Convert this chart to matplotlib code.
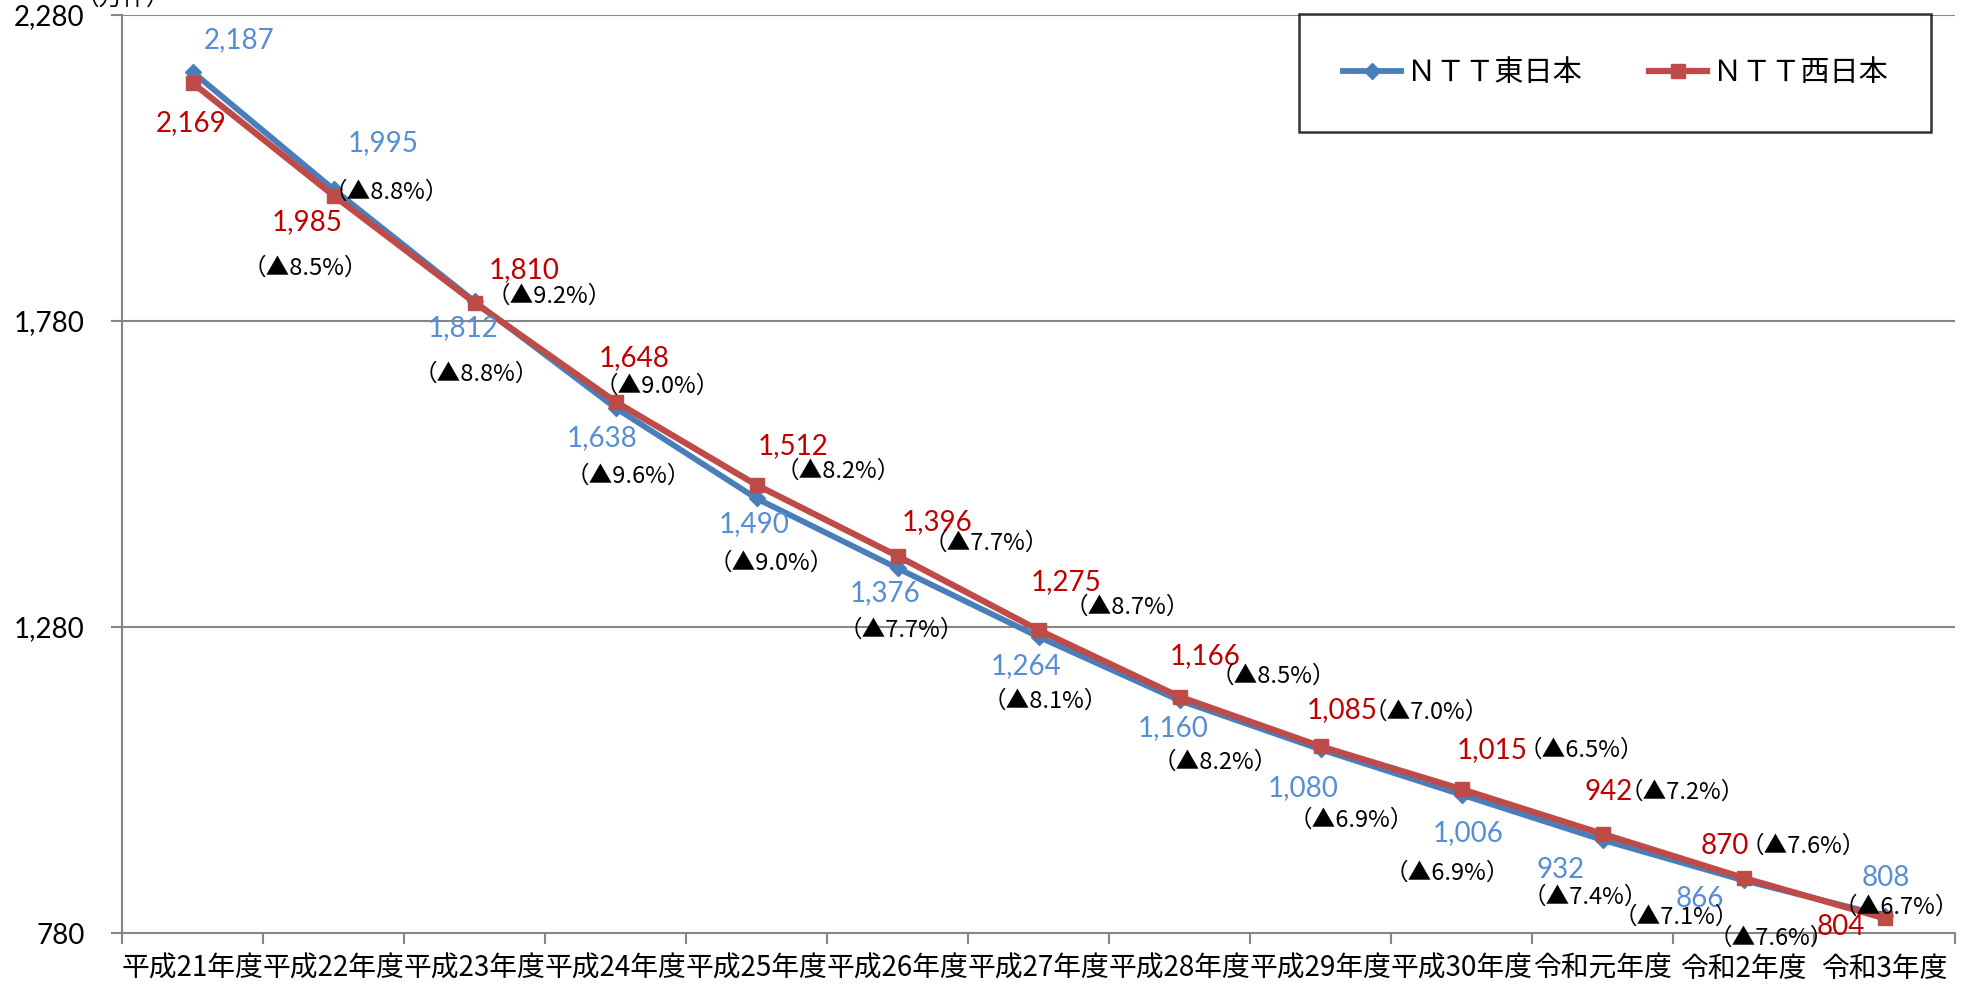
import matplotlib
matplotlib.use('Agg')
import matplotlib.pyplot as plt

plt.rcParams['font.family'] = ['Lato', 'Noto Sans CJK JP', 'DejaVu Sans']

# data
years = ['平成21年度', '平成22年度', '平成23年度', '平成24年度', '平成25年度', '平成26年度',
         '平成27年度', '平成28年度', '平成29年度', '平成30年度', '令和元年度', '令和2年度', '令和3年度']
east = [2187, 1995, 1812, 1638, 1490, 1376, 1264, 1160, 1080, 1006, 932, 866, 808]
west = [2169, 1985, 1810, 1648, 1512, 1396, 1275, 1166, 1085, 1015, 942, 870, 804]
east_pct = ['8.8', '9.2', '9.6', '9.0', '7.7', '8.1', '8.2', '6.9', '6.9', '7.4', '7.1', '6.7']
west_pct = ['8.5', '8.8', '9.0', '8.2', '7.7', '8.7', '8.5', '7.0', '6.5', '7.2', '7.6', '7.6']
yticks = [780, 1280, 1780, 2280]

# label offsets (pixels in the shrunk reference, y down), scaled below
east_off = [(37, -25), (39, -37), (-9, 21), (-11, 24), (-2, 20), (-10, 20), (-10, 23),
            (-5, 22), (-14, 31), (5, 30), (-33, 24), (-35, 15), (1, -30)]
west_off = [(-1, 32), (-21, 21), (39, -26), (15, -35), (29, -31), (31, -27), (22, -38),
            (20, -32), (17, -29), (24, -31), (5, -33), (-15, -25), (-35, 7)]
east_pct_off = [(42, 2), (59, -4), (10, 54), (12, 51), (3, 49), (5, 51), (28, 49),
                (24, 56), (-11, 62), (-14, 45), (-53, 29), (9, -7)]
west_pct_off = [(-22, 58), (1, 57), (33, -12), (65, -11), (70, -10), (70, -18), (74, -16),
                (84, -27), (95, -31), (63, -33), (47, -25), (-90, 16)]
S = 1978 / 1568

c_east, c_west = '#4A7EBB', '#BE4B48'
t_east, t_west = '#558ED5', '#C00000'
grid_c = '#868686'

fig = plt.figure(figsize=(19.78, 9.84), dpi=100)
ax = fig.add_axes([0.0617, 0.0518, 0.9267, 0.933])

x = list(range(len(years)))
ax.plot(x, east, color=c_east, lw=4.2, marker='D', ms=8, label='ＮＴＴ東日本', zorder=3)
ax.plot(x, west, color=c_west, lw=4.5, marker='s', ms=10, label='ＮＴＴ西日本', zorder=4)

ax.set_xlim(-0.5, len(years) - 0.5)
ax.set_ylim(780, 2280)
ax.set_yticks(yticks)
ax.set_yticklabels([f'{v:,}' for v in yticks], fontsize=20)
ax.set_xticks(x)
ax.set_xticklabels(years, fontsize=20, family=['Noto Sans CJK JP'])
ax.set_xticks([i - 0.5 for i in range(len(years) + 1)], minor=True)
ax.tick_params(axis='x', which='major', length=0, pad=15)
ax.tick_params(axis='x', which='minor', length=8, width=1.5, color=grid_c)
ax.tick_params(axis='y', length=8, width=1.5, color=grid_c, pad=19)
for y in yticks[1:]:
    ax.axhline(y, color=grid_c, lw=1.5, zorder=1)
for s in ['top', 'right']:
    ax.spines[s].set_visible(False)
for s in ['left', 'bottom']:
    ax.spines[s].set_color(grid_c)
    ax.spines[s].set_linewidth(1.5)

def px(off):
    return (off[0] * S, -off[1] * S)

for i, v in enumerate(east):
    ax.annotate(f'{v:,}', (i, v), xytext=px(east_off[i]), textcoords='offset pixels',
                ha='center', va='center', color=t_east, fontsize=20, zorder=5)
for i, v in enumerate(west):
    ax.annotate(f'{v:,}', (i, v), xytext=px(west_off[i]), textcoords='offset pixels',
                ha='center', va='center', color=t_west, fontsize=20, zorder=5)
for i, p in enumerate(east_pct):
    ax.annotate(f'（▲{p}%）', (i + 1, east[i + 1]), xytext=px(east_pct_off[i]),
                textcoords='offset pixels', ha='center', va='center', fontsize=17,
                family=['Noto Sans CJK JP'], zorder=5)
for i, p in enumerate(west_pct):
    ax.annotate(f'（▲{p}%）', (i + 1, west[i + 1]), xytext=px(west_pct_off[i]),
                textcoords='offset pixels', ha='center', va='center', fontsize=17,
                family=['Noto Sans CJK JP'], zorder=5)

leg = ax.legend(loc='upper left', bbox_to_anchor=(0.642, 0.8725, 0.345, 0.1285),
                mode='expand', ncol=2, frameon=True, fancybox=False, borderaxespad=0,
                borderpad=1.5, handlelength=2.0, handletextpad=0.2, columnspacing=1.6,
                prop={'family': ['Noto Sans CJK JP'], 'size': 21})
leg.get_frame().set_edgecolor('black')
leg.get_frame().set_linewidth(1.8)

fig.text(0.038, 0.99, '（万件）', fontsize=17, va='bottom', ha='left',
         family=['Noto Sans CJK JP'])

fig.savefig('out.png', dpi=100)
